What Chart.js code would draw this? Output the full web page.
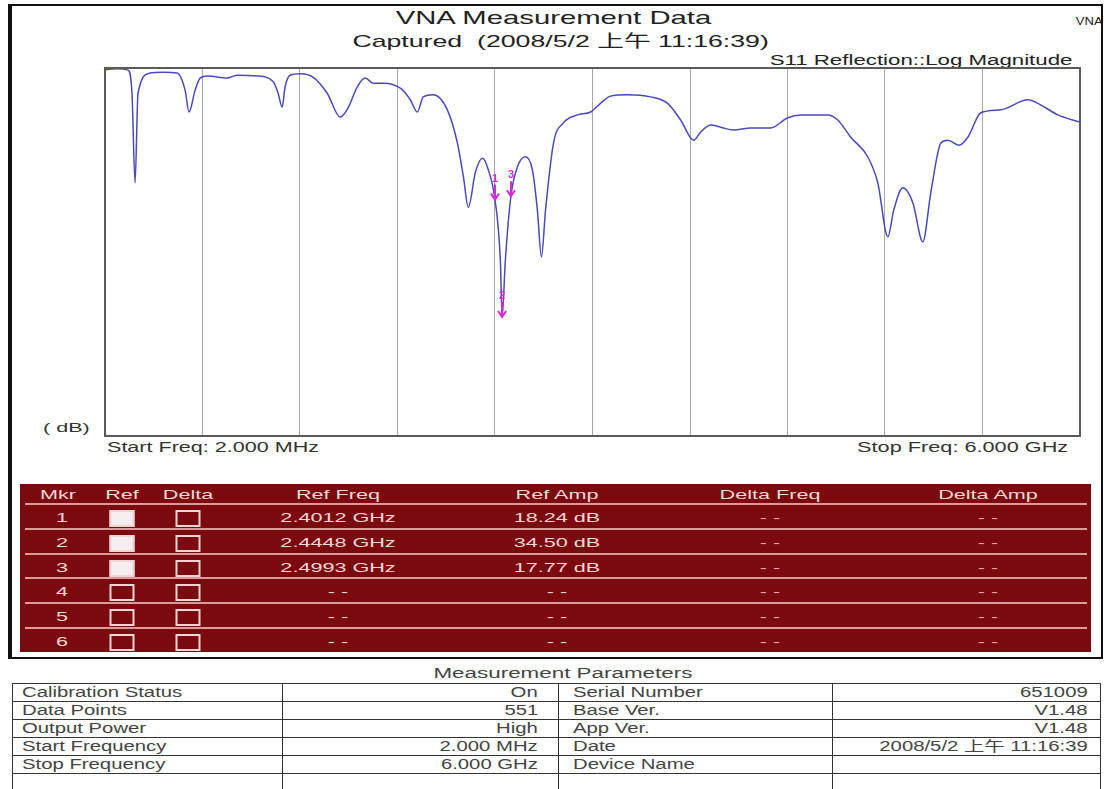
<!DOCTYPE html>
<html>
<head>
<meta charset="utf-8">
<script src="https://cdn.jsdelivr.net/npm/chart.js@4.4.0/dist/chart.umd.min.js"></script>
<style>
  body { margin: 0; background: #fff; font-family: "Liberation Sans", Arial, "Noto Sans CJK TC", sans-serif; color: #333; }
  #page { position: relative; width: 1107px; height: 789px; overflow: hidden; }
  #frame { position: absolute; left: 8px; top: 4px; width: 1089px; height: 651px; border: 2px solid #111; border-left-width: 4px; }
  .txt { position: absolute; white-space: nowrap; line-height: 1; }
  .sx { display: inline-block; white-space: nowrap; }
  #plotBox { position: absolute; left: 104px; top: 67px; width: 977px; height: 370px; }
  #mkr { position: absolute; left: 20px; top: 484px; width: 1071px; height: 168px; background: #7a0a0d; }
  #mkr .c { position: absolute; white-space: nowrap; font-size: 13.5px; line-height: 1; color: #f3d6d6; transform: translateX(-50%) scaleX(1.6); }
  #mkr .sep { position: absolute; left: 5px; right: 4px; height: 2px; background: #dc9a9a; }
  #mkr .box { position: absolute; width: 21px; height: 13px; border: 2px solid #eed4d4; transform: translateX(-50%); }
  #params { position: absolute; left: 12px; top: 683px; border-collapse: collapse; font-size: 14px; color: #444; table-layout: fixed; }
  #params td { border: 1px solid #333; height: 17px; line-height: 17px; padding: 0; overflow: visible; white-space: nowrap; }
  #params .sx { transform: scaleX(1.45); }
</style>
</head>
<body>
<div id="page">
  <div id="frame"></div>
  <div class="txt" style="left:0;width:1107px;text-align:center;top:8px;font-size:19px;color:#222;"><span class="sx" style="transform:scaleX(1.54)">VNA Measurement Data</span></div>
  <div class="txt" style="left:7px;width:1107px;text-align:center;top:33px;font-size:17px;color:#222;"><span class="sx" style="transform:scaleX(1.57)">Captured&nbsp; (2008/5/2 上午 11:16:39)</span></div>
  <div class="txt" style="right:4px;top:17px;font-size:10px;color:#222;"><span class="sx" style="transform:scaleX(1.3);transform-origin:right">VNA</span></div>
  <div class="txt" style="right:35px;top:53px;font-size:14px;color:#222;"><span class="sx" style="transform:scaleX(1.59);transform-origin:right">S11 Reflection::Log Magnitude</span></div>
  <div class="txt" style="left:43px;top:421px;font-size:13.5px;"><span class="sx" style="transform:scaleX(1.6);transform-origin:left">( dB)</span></div>
  <div class="txt" style="left:107px;top:440px;font-size:14px;"><span class="sx" style="transform:scaleX(1.54);transform-origin:left">Start Freq: 2.000 MHz</span></div>
  <div class="txt" style="right:39px;top:440px;font-size:14px;"><span class="sx" style="transform:scaleX(1.55);transform-origin:right">Stop Freq: 6.000 GHz</span></div>
  <div id="plotBox"><canvas id="chart"></canvas></div>
  <div id="mkr"></div>
  <div class="txt" style="left:9px;width:1107px;text-align:center;top:666px;font-size:14px;color:#444;"><span class="sx" style="transform:scaleX(1.6)">Measurement Parameters</span></div>
  <table id="params"></table>
</div>
<script>
// S11 trace
const freqMHz = [2, 76, 144, 168, 187, 205, 279, 359, 445, 495, 519, 556, 587, 630, 753, 815, 938, 1037, 1067, 1092,
  1110, 1141, 1203, 1283, 1369, 1449, 1498, 1554, 1603, 1652, 1714, 1819, 1880, 1923, 1960, 2022, 2108, 2170, 2207, 2237,
  2280, 2324, 2360, 2401, 2434, 2445, 2465, 2499, 2539, 2588, 2631, 2662, 2687, 2712, 2761, 2822, 2909, 2989, 3050, 3112,
  3216, 3358, 3463, 3543, 3623, 3666, 3728, 3789, 3869, 3974, 4097, 4202, 4282, 4448, 4510, 4590, 4694, 4756, 4818, 4854,
  4910, 4972, 5033, 5082, 5144, 5187, 5255, 5310, 5390, 5513, 5680, 5741, 5864, 6000];
const s11dB = [-0.2, -0.1, -0.3, -3.5, -15.9, -3.5, -0.7, -0.6, -0.7, -3.1, -6.1, -3.1, -1.4, -1.1, -1.4, -1.0, -1.1, -1.9, -3.5, -5.4,
  -2.6, -1.0, -0.8, -1.3, -3.5, -6.8, -5.5, -2.6, -1.4, -2.1, -2.1, -2.8, -4.4, -6.1, -4.0, -3.7, -5.8, -10.4, -15.1, -19.3,
  -14.5, -12.5, -14.1, -18.24, -26.6, -34.5, -26.6, -17.77, -13.7, -12.3, -14.1, -19.7, -26.2, -19.7, -10.4, -7.6, -6.5, -6.1, -4.9, -3.9,
  -3.7, -4.0, -4.9, -7.2, -10.0, -8.9, -7.9, -8.2, -8.6, -8.3, -8.3, -6.9, -6.5, -6.5, -7.2, -9.6, -12.3, -15.9, -23.4, -19.7,
  -16.6, -18.7, -24.1, -17.3, -10.4, -10.0, -10.7, -9.6, -6.2, -5.8, -4.4, -4.9, -6.5, -7.5];

// vertical grid, 10 divisions from start to stop
const gridMHz = [2, 601.8, 1201.6, 1801.4, 2401.2, 3001, 3600.8, 4200.6, 4800.4, 5400.2, 6000];

// markers
const mkrNum = [1, 2, 3, 4, 5, 6];
const mkrRefOn = [true, true, true, false, false, false];
const mkrFreqGHz = [2.4012, 2.4448, 2.4993, null, null, null];
const mkrAmpDb = [18.24, 34.50, 17.77, null, null, null];

// measurement parameters
const paramLeftNames = ["Calibration Status", "Data Points", "Output Power", "Start Frequency", "Stop Frequency", ""];
const paramLeftVals = ["On", "551", "High", "2.000 MHz", "6.000 GHz", ""];
const paramRightNames = ["Serial Number", "Base Ver.", "App Ver.", "Date", "Device Name", ""];
const paramRightVals = ["651009", "V1.48", "V1.48", "2008/5/2 上午 11:16:39", "", ""];

// frame round the plot
const framePlugin = {
  id: 'plotFrame',
  afterDatasetsDraw(chart) {
    const { ctx, chartArea: a } = chart;
    ctx.save();
    ctx.strokeStyle = '#5a5a5a';
    ctx.lineWidth = 2;
    ctx.strokeRect(a.left, a.top, a.right - a.left, a.bottom - a.top);
    ctx.restore();
  }
};

// marker arrows: number on top, arrow pointing at the trace
const markerPlugin = {
  id: 'markerArrows',
  afterDatasetsDraw(chart) {
    const { ctx } = chart;
    const xs = chart.scales.x, ys = chart.scales.y;
    ctx.save();
    ctx.strokeStyle = '#d42ad4';
    ctx.fillStyle = '#d42ad4';
    ctx.lineWidth = 2;
    ctx.font = 'bold 11px "Liberation Sans"';
    ctx.textAlign = 'center';
    ctx.textBaseline = 'middle';
    mkrFreqGHz.forEach((f, i) => {
      if (f == null) return;
      const x = xs.getPixelForValue(f * 1000);
      const y = ys.getPixelForValue(-mkrAmpDb[i]);
      ctx.beginPath();
      ctx.moveTo(x, y - 15);
      ctx.lineTo(x, y);
      ctx.moveTo(x - 4, y - 6);
      ctx.lineTo(x, y);
      ctx.lineTo(x + 4, y - 6);
      ctx.stroke();
      ctx.fillText(String(mkrNum[i]), x, y - 21);
    });
    ctx.restore();
  }
};

new Chart(document.getElementById('chart'), {
  type: 'line',
  data: {
    datasets: [{
      data: freqMHz.map((f, i) => ({ x: f, y: s11dB[i] })),
      borderColor: '#4a4ab8',
      borderWidth: 1.5,
      pointRadius: 0,
      cubicInterpolationMode: 'monotone',
      fill: false
    }]
  },
  options: {
    responsive: true,
    maintainAspectRatio: false,
    animation: false,
    layout: { padding: 1 },
    plugins: { legend: { display: false }, tooltip: { enabled: false } },
    scales: {
      x: {
        type: 'linear', min: 2, max: 6000,
        afterBuildTicks: (s) => { s.ticks = gridMHz.map(v => ({ value: v })); },
        ticks: { display: false },
        grid: { color: '#a8a8a8', lineWidth: 1, drawTicks: false },
        border: { display: false }
      },
      y: { min: -51, max: 0, display: false }
    }
  },
  plugins: [framePlugin, markerPlugin]
});

// marker table
const mkr = document.getElementById('mkr');
const colX = [38, 102, 168, 318, 537, 750, 968];
const heads = ["Mkr", "Ref", "Delta", "Ref Freq", "Ref Amp", "Delta Freq", "Delta Amp"];
let html = '';
heads.forEach((h, j) => { html += `<div class="c" style="left:${colX[j]}px;top:4px;">${h}</div>`; });
for (let k = 0; k < 6; k++) {
  html += `<div class="sep" style="top:${19 + 24.8 * k}px;"></div>`;
}
mkrNum.forEach((n, i) => {
  const mid = 34 + 24.8 * i;
  const fTxt = mkrFreqGHz[i] == null ? '- -' : mkrFreqGHz[i].toFixed(4) + ' GHz';
  const aTxt = mkrAmpDb[i] == null ? '- -' : mkrAmpDb[i].toFixed(2) + ' dB';
  html += `<div class="c" style="left:${colX[0] + 4}px;top:${mid - 7}px;">${n}</div>`;
  html += `<div class="box" style="left:${colX[1]}px;top:${mid - 8}px;background:${mkrRefOn[i] ? '#f6eeee' : 'transparent'}"></div>`;
  html += `<div class="box" style="left:${colX[2]}px;top:${mid - 8}px;"></div>`;
  html += `<div class="c" style="left:${colX[3]}px;top:${mid - 7}px;">${fTxt}</div>`;
  html += `<div class="c" style="left:${colX[4]}px;top:${mid - 7}px;">${aTxt}</div>`;
  html += `<div class="c" style="left:${colX[5]}px;top:${mid - 7}px;color:#e2a8a8">- -</div>`;
  html += `<div class="c" style="left:${colX[6]}px;top:${mid - 7}px;color:#e2a8a8">- -</div>`;
});
mkr.innerHTML = html;

// parameters table
const params = document.getElementById('params');
let rows = '<colgroup><col style="width:270px"><col style="width:276px"><col style="width:274px"><col style="width:268px"></colgroup>';
paramLeftNames.forEach((n, i) => {
  rows += `<tr>
    <td style="padding-left:9px"><span class="sx" style="transform-origin:left">${n}</span></td>
    <td style="text-align:right;padding-right:20px"><span class="sx" style="transform-origin:right">${paramLeftVals[i]}</span></td>
    <td style="padding-left:14px"><span class="sx" style="transform-origin:left">${paramRightNames[i]}</span></td>
    <td style="text-align:right;padding-right:12px"><span class="sx" style="transform-origin:right">${paramRightVals[i]}</span></td>
  </tr>`;
});
params.innerHTML = rows;
</script>
</body>
</html>
